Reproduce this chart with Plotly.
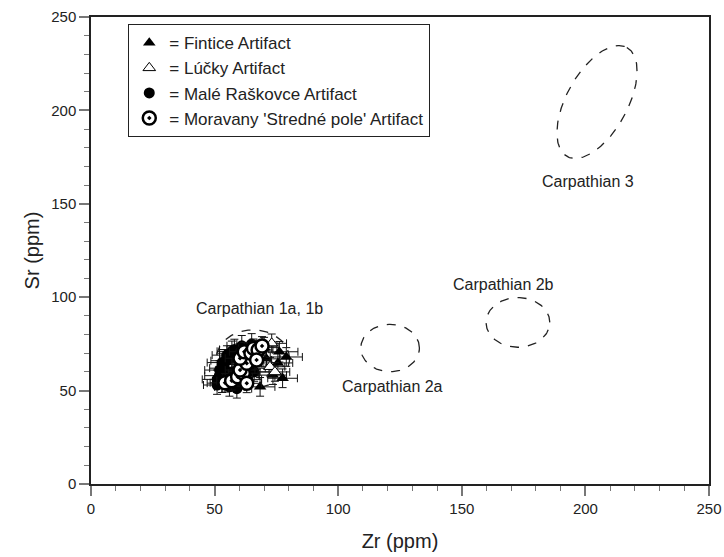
import numpy as np
import plotly.graph_objects as go

# ---------------- data ----------------
fintice_zr = [76.2, 68.4, 77.5, 73.6, 75.6, 71.0, 79.0, 70.0]
fintice_sr = [70.8, 52.0, 56.6, 58.3, 64.8, 67.0, 68.0, 73.0]
fintice_ex = [7.5, 6.0, 6.0, 5.5, 6.0, 5.5, 6.5, 6.0]
fintice_ey = [5.5, 5.0, 5.0, 5.0, 5.5, 5.0, 5.0, 5.5]

lucky_zr = [73.1, 72.4, 74.4]
lucky_sr = [75.3, 62.8, 60.0]
lucky_ex = [6.0, 6.0, 6.0]
lucky_ey = [5.0, 5.0, 5.0]

male_zr = [51, 52, 54, 55, 57, 58, 60, 53, 56, 62, 59, 64, 57, 61, 66, 52,
           51, 53, 55, 58, 60, 63, 56, 59, 62, 65]
male_sr = [56, 58, 62, 66, 60, 68, 64, 54, 52, 58, 55, 62, 71, 74, 60, 61,
           53, 65, 69, 72, 70, 56, 57, 51, 67, 75]
male_ex = [6, 6, 6, 6.5, 6, 6, 6.5, 6, 6, 6, 6, 6.5, 6, 6, 6, 6,
           5.5, 6, 6, 6, 6, 6, 6, 6, 6, 6]
male_ey = [5, 5, 5, 5, 5, 5.5, 5, 5, 5, 5, 5, 5, 5.5, 5.5, 5, 5,
           5, 5, 5, 5.5, 5, 5, 5, 5, 5, 5.5]

mor_zr = [54.2, 56.9, 59.3, 61.6, 63.0, 60.3, 63.0, 60.3, 62.0, 64.7, 65.7, 67.6, 67.0, 69.2]
mor_sr = [54.2, 55.3, 57.4, 59.3, 53.9, 61.0, 64.6, 67.3, 70.8, 70.0, 72.6, 71.7, 66.4, 73.9]
mor_ex = [6, 6, 6, 6, 6, 6, 6, 6, 6, 6, 6, 6, 6, 6]
mor_ey = [5, 5, 5, 5, 5, 5, 5, 5, 5, 5, 5, 5, 5, 5]

# source fields: centre and two conjugate semi-axis vectors (data units)
field_names = ["Carpathian 1a, 1b", "Carpathian 2a", "Carpathian 2b", "Carpathian 3"]
field_cx = [65.5, 121.0, 172.7, 204.7]
field_cy = [67.0, 72.8, 86.5, 204.5]
field_ux = [14.8, 11.85, 12.9, 12.06]
field_uy = [0.0, 0.0, 0.0, 29.2]
field_vx = [0.0, 0.0, 0.0, 10.84]
field_vy = [15.5, 12.7, 13.3, -7.82]
label_x = [68, 122, 167, 201]
label_y = [94, 52, 107, 162]

x_ticks = [0, 50, 100, 150, 200, 250]
y_ticks = [0, 50, 100, 150, 200, 250]

FONT = "Liberation Sans, Arial, sans-serif"

fig = go.Figure()

# ellipses
t = np.linspace(0, 2 * np.pi, 200)
for i in range(len(field_names)):
    ex = field_cx[i] + field_ux[i] * np.cos(t) + field_vx[i] * np.sin(t)
    ey = field_cy[i] + field_uy[i] * np.cos(t) + field_vy[i] * np.sin(t)
    fig.add_trace(go.Scatter(x=ex, y=ey, mode="lines",
                             line=dict(color="#222", width=1.3, dash="dash"),
                             showlegend=False, hoverinfo="skip"))
    fig.add_annotation(x=label_x[i], y=label_y[i], text=field_names[i],
                       showarrow=False, font=dict(family=FONT, size=16, color="#222"))

def err(arr):
    return dict(type="data", array=arr, color="#111", thickness=1, width=4)

fig.add_trace(go.Scatter(x=male_zr, y=male_sr, mode="markers", name="= Malé Raškovce Artifact",
                         error_x=err(male_ex), error_y=err(male_ey),
                         marker=dict(symbol="circle", size=11, color="black"), legendrank=3))
fig.add_trace(go.Scatter(x=fintice_zr, y=fintice_sr, mode="markers", name="= Fintice Artifact",
                         error_x=err(fintice_ex), error_y=err(fintice_ey),
                         marker=dict(symbol="triangle-up", size=11, color="black"), legendrank=1))
fig.add_trace(go.Scatter(x=lucky_zr, y=lucky_sr, mode="markers", name="= Lúčky Artifact",
                         error_x=err(lucky_ex), error_y=err(lucky_ey),
                         marker=dict(symbol="triangle-up", size=11, color="white",
                                     line=dict(color="black", width=1)), legendrank=2))
fig.add_trace(go.Scatter(x=mor_zr, y=mor_sr, mode="markers", name="= Moravany 'Stredné pole' Artifact",
                         error_x=err(mor_ex), error_y=err(mor_ey),
                         marker=dict(symbol="circle-dot", size=13, color="white",
                                     line=dict(color="black", width=2.5)), legendrank=4))

axis_common = dict(range=[0, 250], showline=True, linecolor="#222", linewidth=1.5, mirror=True,
                   ticks="outside", ticklen=10, tickcolor="#777", tickwidth=1.5,
                   showgrid=False, zeroline=False, automargin=False,
                   tickfont=dict(family=FONT, size=15, color="#222"),
                   minor=dict(dtick=10, ticks="outside", ticklen=5, tickcolor="#777", tickwidth=1))

fig.update_xaxes(**axis_common, tickvals=x_ticks,
                 title=dict(text="Zr (ppm)", font=dict(family=FONT, size=20, color="#222"), standoff=18))
fig.update_yaxes(**axis_common, tickvals=y_ticks,
                 title=dict(text="Sr (ppm)", font=dict(family=FONT, size=20, color="#222"), standoff=6))

fig.update_layout(
    width=724, height=557,
    margin=dict(l=91, r=15, t=17, b=73),
    plot_bgcolor="white", paper_bgcolor="white",
    legend=dict(x=0.06, y=0.985, xanchor="left", yanchor="top",
                bordercolor="#222", borderwidth=1.2, bgcolor="white",
                font=dict(family=FONT, size=17, color="#222"),
                tracegroupgap=12, itemsizing="trace"),
)

fig.write_html("out.html", config={"displayModeBar": False},
               post_script="document.body.style.margin='0';document.body.style.overflow='hidden';")
